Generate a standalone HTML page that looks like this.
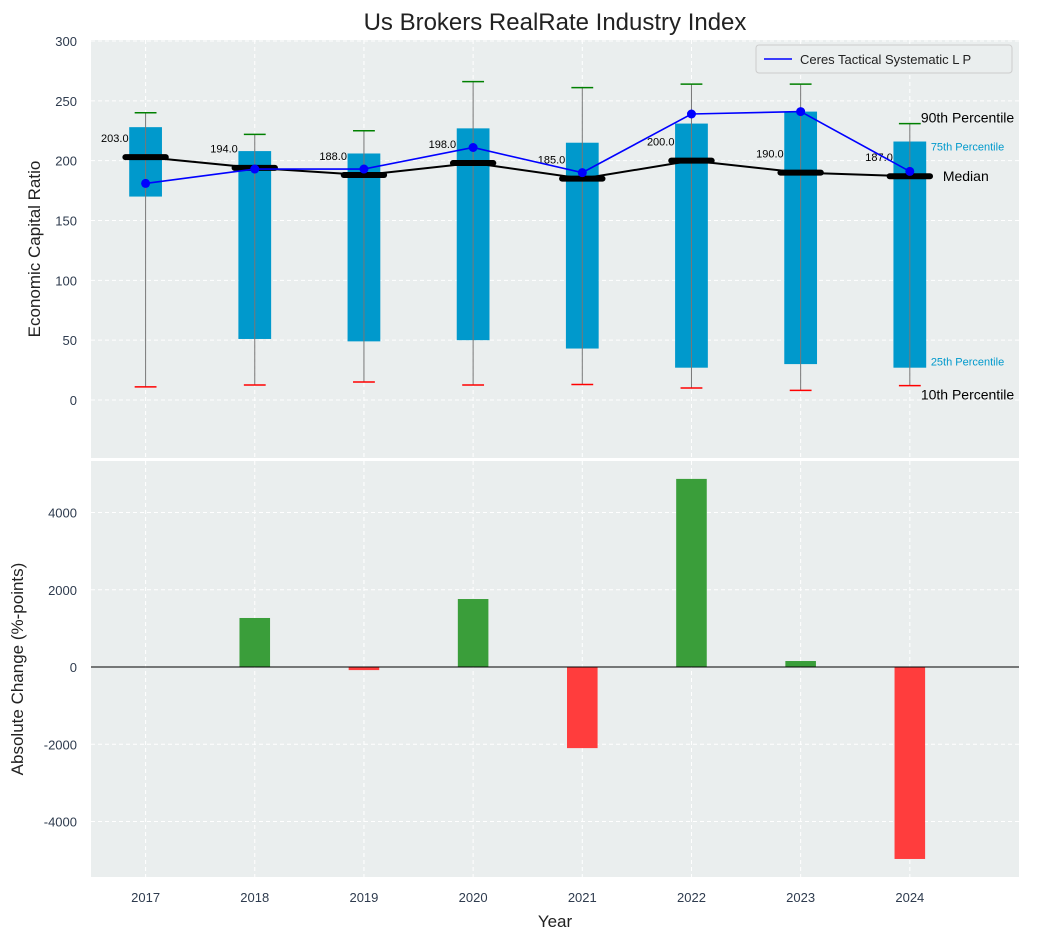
<!DOCTYPE html>
<html><head><meta charset="utf-8"><style>
body{margin:0;background:#fff;font-family:"Liberation Sans",sans-serif}
svg text{font-family:"Liberation Sans",sans-serif}
</style></head><body>
<svg id="c" width="1043" height="940" xmlns="http://www.w3.org/2000/svg"></svg>
<script>
const years=[2017,2018,2019,2020,2021,2022,2023,2024];
const p10=[11,12.5,15,12.5,13,10,8,12];
const p25=[170,51,49,50,43,27,30,27];
const medians=[203,194,188,198,185,200,190,187];
const p75=[228,208,206,227,215,231,241,216];
const p90=[240,222,225,266,261,264,264,231];
const company=[181,193,193,211,190,239,241,191];
const changes=[0,1269,-80,1760,-2100,4870,155,-4970];
const topTicks=[0,50,100,150,200,250,300];
const botTicks=[-4000,-2000,0,2000,4000];

const NS="http://www.w3.org/2000/svg";
const svg=document.getElementById('c');
function el(t,a,p){const e=document.createElementNS(NS,t);for(const k in a)e.setAttribute(k,a[k]);(p||svg).appendChild(e);return e;}
const L=91,R=1019;
const X=v=>L+(v-2016.5)*(R-L)/8.5;
const T0=40,T1=458,B0=461,B1=877;
const Y=v=>400-v*359/300;
const YB=v=>667-v*154.5/4000;

let g=el('rect',{x:L,y:T0,width:R-L,height:T1-T0,fill:'#eaeeee'});

g=el('rect',{x:L,y:B0,width:R-L,height:B1-B0,fill:'#eaeeee'});


topTicks.forEach(t=>{
  el('line',{x1:L,x2:R,y1:Y(t),y2:Y(t),stroke:'#fff','stroke-dasharray':'4,3','stroke-width':1});
  const tx=el('text',{x:77,y:Y(t)+5,'text-anchor':'end','font-size':13,fill:'#2e3b4e'});tx.textContent=t;
  
});
botTicks.forEach(t=>{
  el('line',{x1:L,x2:R,y1:YB(t),y2:YB(t),stroke:'#fff','stroke-dasharray':'4,3','stroke-width':1});
  const tx=el('text',{x:77,y:YB(t)+5,'text-anchor':'end','font-size':13,fill:'#2e3b4e'});tx.textContent=t;
  
});
years.forEach(y=>{
  el('line',{x1:X(y),x2:X(y),y1:T0,y2:T1,stroke:'#fff','stroke-dasharray':'4,3'});
  el('line',{x1:X(y),x2:X(y),y1:B0,y2:B1,stroke:'#fff','stroke-dasharray':'4,3'});
  const tx=el('text',{x:X(y),y:902,'text-anchor':'middle','font-size':13,fill:'#2e3b4e'});tx.textContent=y;
  
});

const bw=0.3*(R-L)/8.5, cw=0.2*(R-L)/8.5, mw=0.37*(R-L)/8.5;
years.forEach((y,i)=>{
  const cx=X(y);
  const b=el('rect',{x:cx-bw/2,y:Y(p75[i]),width:bw,height:Y(p25[i])-Y(p75[i]),fill:'#0099cc'});
  
  el('line',{x1:cx,x2:cx,y1:Y(p10[i]),y2:Y(p90[i]),stroke:'#777','stroke-width':1});
  el('line',{x1:cx-cw/2,x2:cx+cw/2,y1:Y(p90[i]),y2:Y(p90[i]),stroke:'green','stroke-width':1.5});
  el('line',{x1:cx-cw/2,x2:cx+cw/2,y1:Y(p10[i]),y2:Y(p10[i]),stroke:'red','stroke-width':1.5});
});
let d=years.map((y,i)=>(i?'L':'M')+X(y)+','+Y(medians[i])).join('');
g=el('path',{d,fill:'none',stroke:'#000','stroke-width':2});

years.forEach((y,i)=>{
  const m=el('line',{x1:X(y)-mw/2,x2:X(y)+mw/2,y1:Y(medians[i]),y2:Y(medians[i]),stroke:'#000','stroke-width':6,'stroke-linecap':'round'});
  
  const t=el('text',{x:X(y)-17,y:Y(medians[i]+16)+4,'text-anchor':'end','font-size':11,fill:'#000'});t.textContent=medians[i].toFixed(1);
  
});
d=years.map((y,i)=>(i?'L':'M')+X(y)+','+Y(company[i])).join('');
g=el('path',{d,fill:'none',stroke:'#0000ff','stroke-width':1.6});

years.forEach((y,i)=>{const c=el('circle',{cx:X(y),cy:Y(company[i]),r:4.5,fill:'#0000ff'});
  });

const ax=X(2024);
[['90th Percentile',p90[7],11,14,'#000',-6],['75th Percentile',p75[7],21,11,'#0099cc',4],['Median',medians[7],33,14,'#000',0],['25th Percentile',p25[7],21,11,'#0099cc',-7],['10th Percentile',p10[7],11,14,'#000',9]].forEach(a=>{
  const t=el('text',{x:ax+a[2],y:Y(a[1])+5+a[5],'font-size':a[3],fill:a[4]});t.textContent=a[0];
  
});

g=el('g',{});
el('rect',{x:756,y:45,width:256,height:28,fill:'#eaeeee',stroke:'#ccc',rx:3},g);
el('line',{x1:764,x2:792,y1:59,y2:59,stroke:'#0000ff','stroke-width':1.6},g);
let lt=el('text',{x:800,y:64,'font-size':13,fill:'#222'},g);lt.textContent='Ceres Tactical Systematic L P';

const barw=0.28*(R-L)/8.5;
years.forEach((y,i)=>{
  const v=changes[i];
  const r=el('rect',{x:X(y)-barw/2,y:Math.min(YB(v),YB(0)),width:barw,height:Math.abs(YB(v)-YB(0)),fill:v>=0?'#3a9e3a':'#ff3d3d'});
  
});
el('line',{x1:L,x2:R,y1:YB(0),y2:YB(0),stroke:'#000','stroke-width':1});

let t=el('text',{x:555,y:30,'text-anchor':'middle','font-size':24,fill:'#222'});t.textContent='Us Brokers RealRate Industry Index';

t=el('text',{x:0,y:0,'text-anchor':'middle','font-size':17,fill:'#222',transform:'translate(40,249) rotate(-90)'});t.textContent='Economic Capital Ratio';

t=el('text',{x:0,y:0,'text-anchor':'middle','font-size':17,fill:'#222',transform:'translate(23,669) rotate(-90)'});t.textContent='Absolute Change (%-points)';

t=el('text',{x:555,y:927,'text-anchor':'middle','font-size':17,fill:'#222'});t.textContent='Year';

</script>
</body></html>
